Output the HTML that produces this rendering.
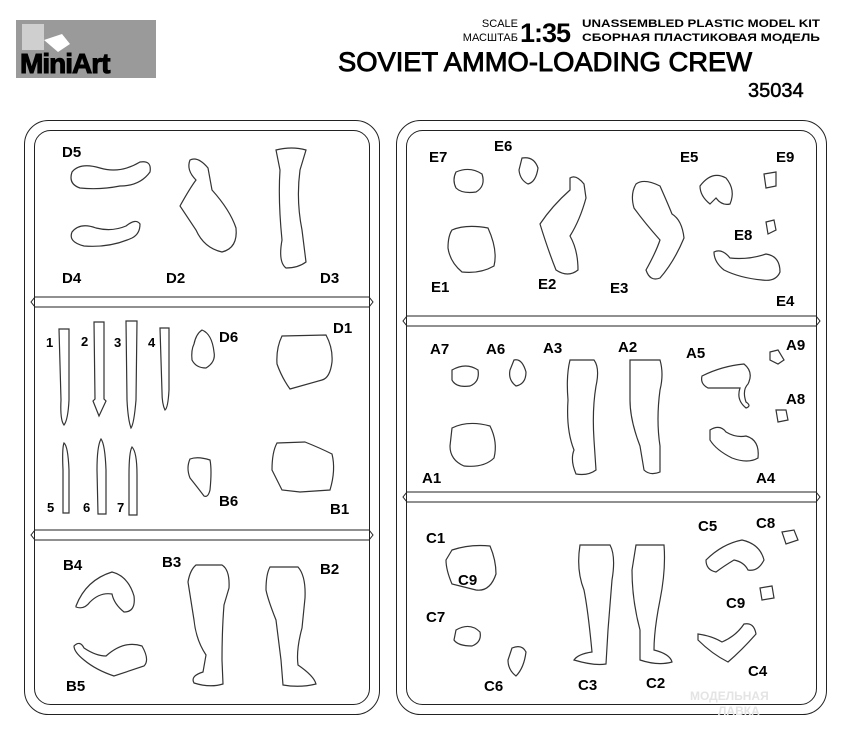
<!DOCTYPE html>
<html><head><meta charset="utf-8"><style>
html,body{margin:0;padding:0;background:#fff;}
svg{display:block;}
text{font-family:"Liberation Sans",sans-serif;font-weight:bold;fill:#000;}
.s{fill:none;stroke:#222;stroke-width:1;}
.f{fill:none;stroke:#333;stroke-width:1.2;}
</style></head><body>
<svg width="846" height="739" viewBox="0 0 846 739" xmlns="http://www.w3.org/2000/svg">
<!-- logo -->
<rect x="16" y="20" width="140" height="58" fill="#9a9a9a"/>
<rect x="22" y="24" width="22" height="26" fill="#cfcfcf"/>
<path d="M44 40 L62 34 L70 44 L58 52 Z" fill="#fff"/>
<text x="20" y="73" font-size="28" style="font-family:'Liberation Sans',sans-serif;letter-spacing:-1px;stroke:#000;stroke-width:1">MiniArt</text>
<!-- header -->
<text x="518" y="27" font-size="11" text-anchor="end" style="font-weight:normal">SCALE</text>
<text x="518" y="41" font-size="11" text-anchor="end" style="font-weight:normal">МАСШТАБ</text>
<text x="520" y="42" font-size="27" style="letter-spacing:-1px">1:35</text>
<text x="582" y="27" font-size="11" textLength="238" lengthAdjust="spacingAndGlyphs">UNASSEMBLED PLASTIC MODEL KIT</text>
<text x="582" y="41" font-size="11" textLength="238" lengthAdjust="spacingAndGlyphs">СБОРНАЯ ПЛАСТИКОВАЯ МОДЕЛЬ</text>
<text x="338" y="71" font-size="27" textLength="414" lengthAdjust="spacingAndGlyphs" style="font-weight:normal;stroke:#000;stroke-width:0.9">SOVIET AMMO-LOADING CREW</text>
<text x="748" y="97" font-size="20" style="font-weight:normal;stroke:#000;stroke-width:0.5">35034</text>

<!-- left frame -->
<rect x="24.5" y="120.5" width="355" height="594" rx="24" class="s"/>
<rect x="34.5" y="130.5" width="335" height="574" rx="16" class="s"/>
<path d="M35 297 H369 L373 302 L369 307 H35 L31 302 Z" fill="#fff" class="s"/>
<path d="M35 530 H369 L373 535 L369 540 H35 L31 535 Z" fill="#fff" class="s"/>
<!-- right frame -->
<rect x="396.5" y="120.5" width="430" height="594" rx="24" class="s"/>
<rect x="406.5" y="130.5" width="410" height="574" rx="16" class="s"/>
<path d="M407 316 H816 L820 321 L816 326 H407 L403 321 Z" fill="#fff" class="s"/>
<path d="M407 492 H816 L820 497 L816 502 H407 L403 497 Z" fill="#fff" class="s"/>

<!-- left top panel D -->
<text x="62" y="157" font-size="15">D5</text>
<path class="f" d="M72 172 Q80 162 100 168 Q120 174 140 162 Q152 160 150 172 Q140 186 120 186 Q100 190 80 188 Q68 184 72 172Z"/>
<path class="f" d="M72 232 Q80 222 96 228 Q112 232 126 226 Q136 218 140 224 Q140 234 132 238 Q110 248 84 246 Q68 242 72 232Z"/>
<text x="62" y="283" font-size="15">D4</text>
<path class="f" d="M190 160 Q198 156 208 168 L212 190 Q230 210 236 228 Q238 248 222 252 Q204 248 196 230 L180 206 Q190 188 196 180 Q186 170 190 160Z"/>
<text x="166" y="283" font-size="15">D2</text>
<path class="f" d="M276 150 Q292 146 306 150 L300 170 Q296 200 302 230 L306 262 Q298 268 286 268 Q278 262 282 240 Q278 200 280 170 Z"/>
<text x="320" y="283" font-size="15">D3</text>

<!-- middle left -->
<text x="46" y="347" font-size="13">1</text>
<path class="f" d="M59 329 H69 L69 400 Q68 420 64 425 Q60 420 61 400 Z"/>
<text x="81" y="346" font-size="13">2</text>
<path class="f" d="M94 322 H104 L104 399 L106 401 L99 416 L93 401 L95 399 Z"/>
<text x="114" y="347" font-size="13">3</text>
<path class="f" d="M126 321 H137 L136 400 Q134 424 131 428 Q128 420 127 400 Z"/>
<text x="148" y="347" font-size="13">4</text>
<path class="f" d="M160 328 H169 L169 390 Q168 408 165 410 Q162 404 162 392 Z"/>
<path class="f" d="M64 443 Q68 446 69 470 L69 513 H63 L63 470 Q62 448 64 443Z"/>
<text x="47" y="512" font-size="13">5</text>
<path class="f" d="M101 439 Q105 444 106 470 L106 514 H98 L97 470 Q97 446 101 439Z"/>
<text x="83" y="512" font-size="13">6</text>
<path class="f" d="M132 447 Q137 452 137 475 L137 515 H129 L129 475 Q129 452 132 447Z"/>
<text x="117" y="512" font-size="13">7</text>
<path class="f" d="M202 330 Q212 334 214 352 Q216 362 206 368 Q196 368 192 360 Q191 350 194 344 Q196 334 202 330Z"/>
<text x="219" y="342" font-size="15">D6</text>
<path class="f" d="M282 336 L326 335 Q333 348 332 362 Q330 378 322 380 L290 389 Q282 378 277 364 Q276 348 282 336Z"/>
<text x="333" y="333" font-size="15">D1</text>
<path class="f" d="M190 459 Q198 456 210 460 Q212 470 210 490 Q208 498 204 496 Q198 488 190 478 Q186 468 190 459Z"/>
<text x="219" y="506" font-size="15">B6</text>
<path class="f" d="M277 443 L305 442 Q320 448 332 454 Q336 470 330 490 L300 492 L282 490 Q277 480 272 470 Q272 452 277 443Z"/>
<text x="330" y="514" font-size="15">B1</text>

<!-- bottom left B -->
<text x="63" y="570" font-size="15">B4</text>
<path class="f" d="M76 606 Q86 580 112 572 Q128 576 134 596 Q136 612 124 612 Q114 604 112 594 Q100 592 90 602 Q84 610 76 607Z"/>
<path class="f" d="M74 646 Q80 640 84 648 Q96 656 106 656 Q124 640 142 646 Q150 660 144 666 L114 676 Q96 670 84 660 Q74 652 74 646Z"/>
<text x="66" y="691" font-size="15">B5</text>
<text x="162" y="567" font-size="15">B3</text>
<path class="f" d="M196 565 H222 Q230 570 229 588 L224 605 Q222 630 222 660 L223 684 Q210 688 194 683 Q190 676 203 672 L206 655 Q196 640 194 620 L188 582 Q190 570 196 565Z"/>
<path class="f" d="M270 567 H298 Q306 576 305 598 L302 628 Q296 650 298 665 Q314 676 316 684 Q300 688 283 685 L281 660 L276 620 Q268 600 266 590 Q266 574 270 567Z"/>
<text x="320" y="574" font-size="15">B2</text>

<!-- right top E -->
<text x="429" y="162" font-size="15">E7</text>
<path class="f" d="M456 172 Q470 166 482 174 Q486 186 476 192 Q462 194 456 188 Q452 180 456 172Z"/>
<text x="494" y="151" font-size="15">E6</text>
<path class="f" d="M522 158 Q534 156 538 168 Q536 182 528 184 Q520 180 519 170 Z"/>
<path class="f" d="M452 230 Q466 224 488 228 Q498 250 494 266 Q480 274 462 272 Q450 262 448 248 Q448 236 452 230Z"/>
<text x="431" y="292" font-size="15">E1</text>
<path class="f" d="M570 178 Q576 174 584 184 L586 198 Q580 220 570 236 Q578 250 578 270 Q568 278 556 270 Q548 250 540 224 Q552 206 570 190 Z"/>
<text x="538" y="289" font-size="15">E2</text>
<path class="f" d="M636 184 Q644 178 660 186 Q668 204 672 214 Q682 220 684 238 Q674 262 660 278 Q650 282 646 270 Q656 252 660 240 Q644 222 634 208 Q630 194 636 184Z"/>
<text x="610" y="293" font-size="15">E3</text>
<text x="680" y="162" font-size="15">E5</text>
<path class="f" d="M700 186 Q712 170 726 178 Q736 190 730 204 Q722 206 716 198 L710 204 Q700 196 700 186Z"/>
<text x="776" y="162" font-size="15">E9</text>
<path class="f" d="M764 174 L776 172 L776 186 L766 188 Z"/>
<text x="734" y="240" font-size="15">E8</text>
<path class="f" d="M766 222 L774 220 L776 230 L768 234 Z"/>
<path class="f" d="M714 252 Q722 248 730 258 Q748 260 766 254 Q780 256 780 272 Q776 282 762 280 Q740 278 724 270 Q714 262 714 252Z"/>
<text x="776" y="306" font-size="15">E4</text>

<!-- right middle A -->
<text x="430" y="354" font-size="15">A7</text>
<path class="f" d="M452 370 Q466 362 478 370 Q480 382 470 386 Q456 388 452 380 Z"/>
<text x="486" y="354" font-size="15">A6</text>
<path class="f" d="M514 360 Q522 358 526 372 Q526 384 516 386 Q508 380 510 370 Z"/>
<text x="543" y="353" font-size="15">A3</text>
<path class="f" d="M570 360 H594 Q600 368 596 386 Q592 410 594 440 L596 470 Q588 476 576 474 Q570 460 574 450 Q566 430 568 400 Q566 376 570 360Z"/>
<text x="618" y="352" font-size="15">A2</text>
<path class="f" d="M630 360 H660 Q664 374 660 390 Q656 420 660 446 L660 472 Q650 476 644 470 L640 446 Q630 420 630 400 Z"/>
<text x="686" y="358" font-size="15">A5</text>
<path class="f" d="M702 376 Q722 366 744 364 Q754 372 748 384 Q742 390 746 402 Q752 406 746 408 Q736 400 740 388 Q726 388 708 388 Q700 384 702 376Z"/>
<text x="786" y="350" font-size="15">A9</text>
<path class="f" d="M770 352 L778 350 L784 360 L778 364 L770 360Z"/>
<text x="786" y="404" font-size="15">A8</text>
<path class="f" d="M776 410 L786 410 L788 420 L778 422Z"/>
<path class="f" d="M452 428 Q468 420 490 426 Q498 442 494 458 Q484 468 464 466 Q450 460 450 446 Z"/>
<text x="422" y="483" font-size="15">A1</text>
<path class="f" d="M710 430 Q720 424 726 432 Q736 438 746 436 Q760 440 758 458 Q748 464 732 458 Q716 450 710 440 Z"/>
<text x="756" y="483" font-size="15">A4</text>

<!-- right bottom C -->
<text x="426" y="543" font-size="15">C1</text>
<path class="f" d="M452 550 Q470 544 490 546 Q496 560 496 574 Q490 592 476 590 L452 584 Q446 570 446 560 Z"/>
<text x="458" y="585" font-size="15">C9</text>
<text x="426" y="622" font-size="15">C7</text>
<path class="f" d="M456 630 Q470 622 480 632 Q482 642 472 646 Q458 646 454 640 Z"/>
<path class="f" d="M512 648 Q522 644 526 652 Q524 668 516 676 Q508 670 508 660 Z"/>
<text x="484" y="691" font-size="15">C6</text>
<path class="f" d="M580 545 H610 Q616 556 612 580 L608 630 L606 664 Q594 666 574 660 Q578 654 592 652 Q588 610 584 590 Q576 570 580 545Z"/>
<text x="578" y="690" font-size="15">C3</text>
<path class="f" d="M636 545 H664 Q666 570 660 600 Q654 630 654 650 Q670 654 672 662 Q658 666 640 660 L640 630 Q632 600 632 570 Z"/>
<text x="646" y="688" font-size="15">C2</text>
<text x="698" y="531" font-size="15">C5</text>
<path class="f" d="M706 560 Q722 544 742 540 Q760 544 764 560 Q758 572 748 570 Q744 562 734 560 Q724 566 716 572 Q706 570 706 560Z"/>
<text x="756" y="528" font-size="15">C8</text>
<path class="f" d="M782 532 L794 530 L798 540 L786 544Z"/>
<text x="726" y="608" font-size="15">C9</text>
<path class="f" d="M760 588 L772 586 L774 598 L762 600Z"/>
<path class="f" d="M698 634 Q712 636 722 642 Q736 636 744 624 Q754 622 756 634 Q742 650 728 662 Q712 654 698 640Z"/>
<text x="748" y="676" font-size="15">C4</text>

<!-- watermark -->
<text x="690" y="700" font-size="12" style="fill:#e4e4e4">МОДЕЛЬНАЯ</text>
<text x="718" y="715" font-size="12" style="fill:#e4e4e4">ЛАВКА</text>
</svg>
</body></html>
